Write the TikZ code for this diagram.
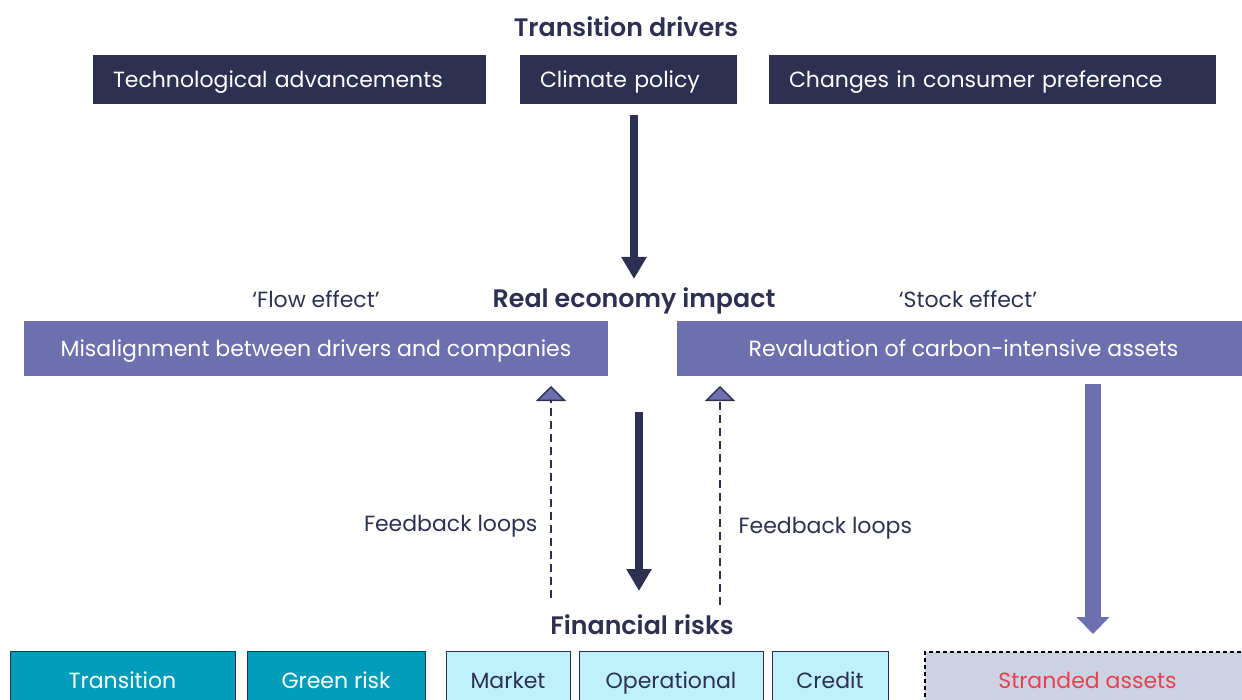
\documentclass[tikz,border=0pt]{standalone}
\usepackage{fontspec}
\setmainfont{Poppins}[BoldFont={Poppins SemiBold}]
\usetikzlibrary{arrows.meta}

\definecolor{navy}{HTML}{2E3052}
\definecolor{purp}{HTML}{6C70AE}
\definecolor{teal}{HTML}{009CBC}
\definecolor{cyanlight}{HTML}{BEF1FB}
\definecolor{lilac}{HTML}{CED0E4}
\definecolor{redtext}{HTML}{E8414F}

\begin{document}
\begin{tikzpicture}[x=1pt,y=-1pt,
    every node/.style={font=\fontsize{22}{26}\selectfont, text=navy,
        text height=20, text depth=4},
    heading/.style={font=\fontsize{25.3}{29}\selectfont\bfseries},
    driver/.style={fill=navy, text=white, minimum height=49, inner xsep=20, align=left},
    impact/.style={fill=purp, text=white, minimum height=55},
    riskbox/.style={draw=navy, line width=0.8, minimum height=58, anchor=north},
    bigarrow/.style={navy, line width=8, -{Triangle[width=24,length=22]}},
    loop/.style={navy, line width=1.4, dash pattern=on 8 off 5,
        -{Triangle[width=30,length=15,fill=purp]}}]
    \clip (0,0) rectangle (1242,700);

    \node[heading] (drivers) at (626,29) {Transition drivers};
    \node[driver, text width=353] (tech) at (289.5,79.5) {Technological advancements};
    \node[driver, text width=177] (climate) at (628.5,79.5) {Climate policy};
    \node[driver, text width=407] (consumer) at (992.5,79.5) {Changes in consumer preference};

    \node[heading] (real) at (634,300) {Real economy impact};
    \node (flow) at (316,300) {‘Flow effect’};
    \node (stock) at (968,300) {‘Stock effect’};
    \node[impact, minimum width=584] (misalign) at (316,348.5) {Misalignment between drivers and companies};
    \node[impact, minimum width=573] (reval) at (963.5,348.5) {Revaluation of carbon-intensive assets};

    \node[anchor=east] (loopl) at (541,523) {Feedback loops};
    \node[anchor=west] (loopr) at (735,525) {Feedback loops};

    \node[heading] (fin) at (642,626) {Financial risks};
    \node[riskbox, fill=teal, text=white, minimum width=225] (transition) at (122.5,651) {Transition};
    \node[riskbox, fill=teal, text=white, minimum width=178] (green) at (336,651) {Green risk};
    \node[riskbox, fill=cyanlight, minimum width=124] (market) at (508,651) {Market};
    \node[riskbox, fill=cyanlight, minimum width=184] (oper) at (671,651) {Operational};
    \node[riskbox, fill=cyanlight, minimum width=116] (credit) at (830,651) {Credit};
    \node[riskbox, draw=black, line width=1.5, dash pattern=on 4 off 3, fill=lilac,
        text=redtext, minimum width=325] (stranded) at (1087.5,651) {Stranded assets};

    % arrows between the levels
    \coordinate (a1) at (634,115);
    \coordinate (a2) at (634,279);
    \coordinate (b1) at (639,412);
    \coordinate (b2) at (639,591);
    \coordinate (c1) at (1093,384);
    \coordinate (c2) at (1093,634);
    \draw[bigarrow] (a1) -- (a2);
    \draw[bigarrow] (b1) -- (b2);
    \draw[purp, line width=16, -{Triangle[width=32,length=17]}] (c1) -- (c2);

    % feedback loops
    \coordinate (l1) at (551,598);
    \coordinate (l2) at (551,386);
    \coordinate (r1) at (720,605);
    \coordinate (r2) at (720,386);
    \draw[loop] (l1) -- (l2);
    \draw[loop] (r1) -- (r2);
\end{tikzpicture}
\end{document}
